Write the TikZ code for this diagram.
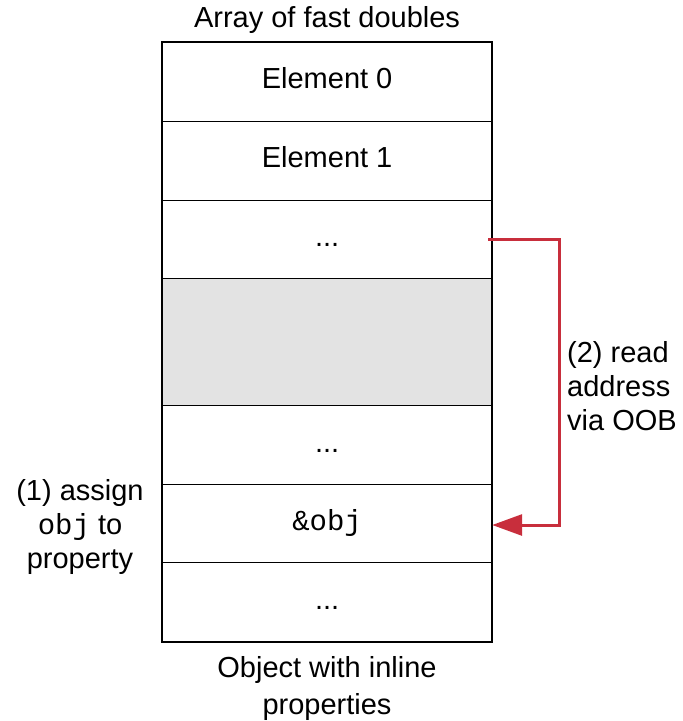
\documentclass[tikz,border=0pt]{standalone}
\usepackage{fontspec}
\setmainfont{Liberation Sans}
\setmonofont{Liberation Mono}
\usetikzlibrary{arrows.meta}
\definecolor{arrred}{HTML}{C82E3C}
\definecolor{cellgray}{HTML}{E3E3E3}
\begin{document}
\begin{tikzpicture}[x=1pt,y=-1pt,
  txt/.style={font=\fontsize{29}{34}\selectfont, inner sep=0pt},
  celltxt/.style={font=\fontsize{29}{34}\selectfont, inner sep=0pt, anchor=base},
  cell/.style={draw=black, line width=1.2pt, minimum width=329pt, inner sep=0pt, anchor=north west},
  redline/.style={draw=arrred, line width=3pt}]
\useasboundingbox (0,0) rectangle (683,721);
\node[cell, minimum height=79pt] (r0) at (162,42) {};
\node[cell, minimum height=79pt] (r1) at (162,121) {};
\node[cell, minimum height=78pt] (r2) at (162,200) {};
\node[cell, minimum height=127pt, fill=cellgray] (r3) at (162,278) {};
\node[cell, minimum height=79pt] (r4) at (162,405) {};
\node[cell, minimum height=78pt] (r5) at (162,484) {};
\node[cell, minimum height=79pt] (r6) at (162,562) {};
\draw[line width=1.6pt] (r0.north west) rectangle (r6.south east);
\node[celltxt] (t0) at ([yshift=-6.5pt]r0.center) {Element 0};
\node[celltxt] (t1) at ([yshift=-6.5pt]r1.center) {Element 1};
\node[celltxt] (t2) at ([yshift=-7pt]r2.center) {...};
\node[celltxt] (t4) at ([yshift=-7pt]r4.center) {...};
\node[celltxt] (t5) at ([yshift=-7pt]r5.center) {\texttt{\&obj}};
\node[celltxt] (t6) at ([yshift=-7pt]r6.center) {...};
\node[txt] (title) at (327,20) {Array of fast doubles};
\node[txt, align=center, font=\fontsize{29}{37}\selectfont] (bottom) at (327,688) {Object with inline\\properties};
\node[txt, align=center] (left) at (80,527) {(1) assign\\\texttt{obj} to\\property};
\node[txt, align=left, anchor=west] (right) at (567,386) {(2) read\\address\\via OOB};
\coordinate (c0) at (488,239);
\coordinate (c1) at (559,239);
\coordinate (c2) at (559,525);
\draw[redline, line join=miter, -{Triangle[length=30pt,width=21pt]}] (c0) -- (c1) -- (c2) -- (r5.east |- c2);
\end{tikzpicture}
\end{document}
